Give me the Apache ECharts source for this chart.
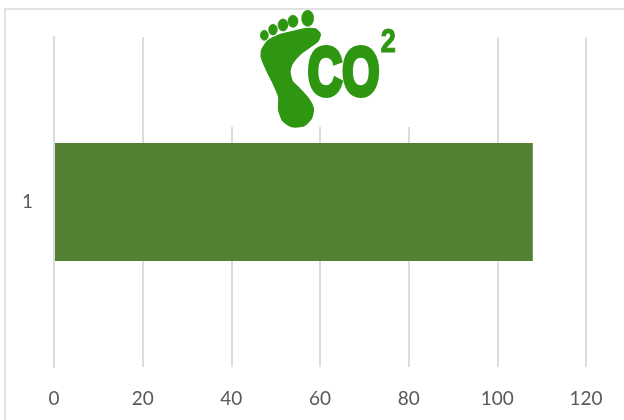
<!DOCTYPE html>
<html><head><meta charset="utf-8">
<style>html,body{margin:0;padding:0;background:#fff}#c{width:624px;height:420px}</style>
<script src="https://cdn.jsdelivr.net/npm/echarts@6/dist/echarts.min.js"></script>
</head><body><div id="c"></div>
<script>
const categories = ['1'];
const values = [108];
const axisMin = 0, axisMax = 120, axisStep = 20;
const logoGreen = '#2f9612';
const gridGrey = '#dcdcdc';
const labelGrey = '#595959';
const font = 'Lato';

const chart = echarts.init(document.getElementById('c'), null, {renderer:'canvas'});
const toes = [[233,55,18,24],[189,64,15,18],[159,75,15,18],[129,89,13,16],[103,106,12,15]];
const footOutline = [[271,102],[256,87],[225,86],[190,94],[150,104],[113,123],[95,150],[94,172],[108,207],[128,247],[146,290],[146,330],[158,362],[185,380],[222,378],[245,354],[250,325],[234,294],[207,264],[187,244],[180,215],[187,190],[212,161],[240,141],[264,123]];
chart.setOption({
  animation:false,
  backgroundColor:'#fff',
  grid:{left:54,right:38,top:37,bottom:53},
  xAxis:{type:'value',min:axisMin,max:axisMax,interval:axisStep,
    axisLine:{show:false},axisTick:{show:false},
    splitLine:{show:true,lineStyle:{color:gridGrey,width:2}},
    axisLabel:{color:labelGrey,fontFamily:font,fontSize:19,margin:22}},
  yAxis:{type:'category',data:categories,inverse:true,z:20,
    axisLine:{show:true,lineStyle:{color:gridGrey,width:2}},axisTick:{show:false},
    axisLabel:{color:labelGrey,fontFamily:font,fontSize:19,margin:21}},
  series:[{type:'bar',data:values,barCategoryGap:'64.2%',z:5,itemStyle:{color:'#548235'},silent:true}],
  graphic:[
    {type:'rect',z:50,shape:{x:4,y:8,width:620,height:2},style:{fill:'#e2e2e2'}},
    {type:'rect',z:50,shape:{x:4,y:8,width:2,height:412},style:{fill:'#e2e2e2'}},
    {type:'rect',z:60,shape:{x:226,y:11,width:190,height:116},style:{fill:'#fff'}},
    {type:'group',x:230,y:0,scaleX:1/3,scaleY:1/3,z:70,children:[
      {type:'polygon',z:70,shape:{points:footOutline,smooth:0.2},style:{fill:logoGreen,stroke:logoGreen,lineWidth:4}},
      ...toes.map(t=>({type:'ellipse',z:70,shape:{cx:t[0],cy:t[1],rx:t[2],ry:t[3]},style:{fill:logoGreen,stroke:logoGreen,lineWidth:2}})),
      {type:'text',z:70,x:341,y:229,scaleX:2.05,scaleY:2.94,style:{text:'CO',font:'bold 70px "Liberation Sans"',fill:logoGreen,stroke:logoGreen,lineWidth:5,align:'center',verticalAlign:'middle'}},
      {type:'text',z:70,x:475,y:130,scaleX:2.8,scaleY:3.4,style:{text:'2',font:'bold 29px "Liberation Sans"',fill:logoGreen,stroke:logoGreen,lineWidth:1,align:'center',verticalAlign:'middle'}}
    ]}
  ]
});
</script></body></html>
